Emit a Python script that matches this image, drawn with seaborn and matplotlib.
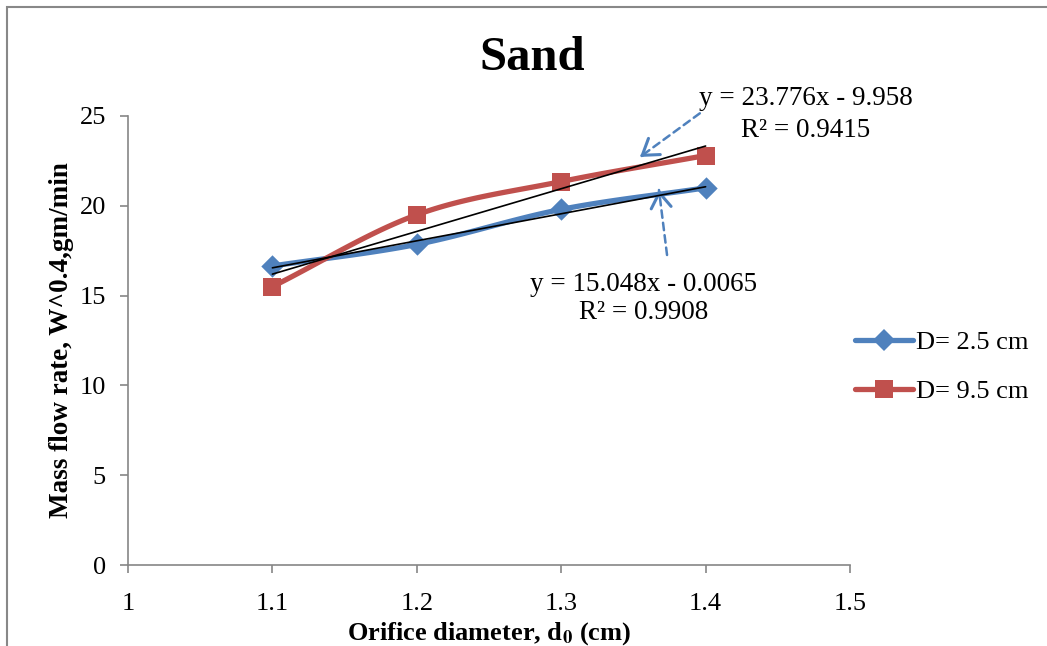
import numpy as np
import matplotlib
matplotlib.use("Agg")
import matplotlib.pyplot as plt
import seaborn as sns
from matplotlib.lines import Line2D
from matplotlib.patches import Rectangle

# ---- data ----
orifice = [1.1, 1.2, 1.3, 1.4]
flow_d25 = [16.65, 17.85, 19.8, 21.0]
flow_d95 = [15.5, 19.5, 21.35, 22.8]
series_labels = ["D= 2.5 cm", "D= 9.5 cm"]
trend_slope = [15.048, 23.776]
trend_intercept = [-0.0065, -9.958]
trend_eq = ["y = 15.048x - 0.0065", "y = 23.776x - 9.958"]
trend_r2 = ["R² = 0.9908", "R² = 0.9415"]
x_ticks = [1, 1.1, 1.2, 1.3, 1.4, 1.5]
y_ticks = [0, 5, 10, 15, 20, 25]

BLUE = "#4F81BD"
RED = "#C0504D"


def smooth(x, y, n=40, t=0.5):
    """Catmull-Rom style smoothing like Excel's smoothed line."""
    x = np.asarray(x, float)
    y = np.asarray(y, float)
    P = np.column_stack([x, y])
    P = np.vstack([P[0] - (P[1] - P[0]), P, P[-1] + (P[-1] - P[-2])])
    out = []
    for i in range(1, len(P) - 2):
        p0, p1, p2, p3 = P[i - 1], P[i], P[i + 1], P[i + 2]
        m1 = t * (p2 - p0)
        m2 = t * (p3 - p1)
        s = np.linspace(0, 1, n)[:, None]
        h00 = 2 * s**3 - 3 * s**2 + 1
        h10 = s**3 - 2 * s**2 + s
        h01 = -2 * s**3 + 3 * s**2
        h11 = s**3 - s**2
        seg = h00 * p1 + h10 * m1 + h01 * p2 + h11 * m2
        out.append(seg if i == 1 else seg[1:])
    c = np.vstack(out)
    return c[:, 0], c[:, 1]


sns.set_theme(style="white")
plt.rcParams["font.family"] = ["Liberation Serif", "DejaVu Serif"]
plt.rcParams["mathtext.fontset"] = "stix"
plt.rcParams["text.color"] = "black"
plt.rcParams["axes.labelcolor"] = "black"

fig = plt.figure(figsize=(10.47, 6.46), dpi=100)
ax = fig.add_axes([128 / 1047, 1 - 565 / 646, (850 - 128) / 1047, (565 - 116) / 646])

series = [(flow_d25, BLUE, "D", 130), (flow_d95, RED, "s", 180)]
for (yv, col, mk, sz) in series:
    sx, sy = smooth(orifice, yv)
    sns.lineplot(x=sx, y=sy, ax=ax, color=col, linewidth=3.8, sort=False,
                 estimator=None, legend=False, zorder=2)
    sns.scatterplot(x=orifice, y=yv, ax=ax, color=col, marker=mk, s=sz,
                    edgecolor=col, linewidth=0, legend=False, zorder=3)

# trend lines
for slope, icpt in zip(trend_slope, trend_intercept):
    tx = np.array([orifice[0], orifice[-1]])
    sns.lineplot(x=tx, y=slope * tx + icpt, ax=ax, color="black", linewidth=1.2,
                 estimator=None, legend=False, zorder=4)

ax.set_xlim(1, 1.5)
ax.set_ylim(0, 25)
ax.set_xticks(x_ticks)
ax.set_xticklabels([f"{v:g}" for v in x_ticks])
ax.set_yticks(y_ticks)
ax.set_yticklabels([str(v) for v in y_ticks])
ax.tick_params(axis="both", which="major", bottom=True, left=True, direction="out",
               length=6, width=1.2, color="#868686", labelsize=19, labelcolor="black")
ax.tick_params(axis="y", pad=10)
ax.tick_params(axis="x", pad=14)
for side in ["top", "right"]:
    ax.spines[side].set_visible(False)
for side in ["left", "bottom"]:
    ax.spines[side].set_color("#868686")
    ax.spines[side].set_linewidth(1.2)

ax.set_xlabel(r"Orifice diameter, d$_\mathbf{0}$ (cm)", fontsize=19, fontweight="bold", labelpad=4)
ax.set_ylabel("Mass flow rate, W^0.4,gm/min", fontsize=19.5, fontweight="bold", labelpad=4)

fig.text(0.508, 0.910, "Sand", fontsize=35, fontweight="bold", ha="center", va="center")

# trend annotations
ax.text(1.4695, 25.95, trend_eq[1], fontsize=19.5, ha="center", va="center", clip_on=False)
ax.text(1.4695, 24.2, trend_r2[1], fontsize=19.5, ha="center", va="center", clip_on=False)
ax.text(1.357, 15.6, trend_eq[0], fontsize=19.5, ha="center", va="center")
ax.text(1.357, 14.05, trend_r2[0], fontsize=19.5, ha="center", va="center")

line_kw = dict(arrowstyle="-", color=BLUE, lw=1.8, linestyle=(0, (3, 2)),
               shrinkA=0, shrinkB=0)
head_kw = dict(arrowstyle="->,head_length=0.9,head_width=0.6", color=BLUE,
               lw=2.2, shrinkA=0, shrinkB=0)
arrows = [((1.396, 25.15), (1.3546, 22.72)), ((1.3733, 17.26), (1.3677, 20.88))]
for tail, head in arrows:
    ax.annotate("", xy=head, xytext=tail, arrowprops=line_kw, annotation_clip=False)
    near = (head[0] + (tail[0] - head[0]) * 0.04, head[1] + (tail[1] - head[1]) * 0.04)
    ax.annotate("", xy=head, xytext=near, arrowprops=head_kw, annotation_clip=False)

handles = [
    Line2D([], [], color=BLUE, lw=3.8, marker="D", markersize=11, markeredgewidth=0),
    Line2D([], [], color=RED, lw=3.8, marker="s", markersize=13, markeredgewidth=0),
]
leg = fig.legend(handles, series_labels, loc="center left",
                 bbox_to_anchor=(855 / 1047, 1 - 367 / 646), frameon=False,
                 fontsize=19, handlelength=2.2, handletextpad=0.1, labelspacing=0.95,
                 borderaxespad=0, borderpad=0)

fig.patches.append(Rectangle((7 / 1047, -0.1), 1.2, 1 - 7 / 646 + 0.1,
                             transform=fig.transFigure, fill=False,
                             edgecolor="#888888", linewidth=1.5))

fig.savefig("out.png", dpi=100)
